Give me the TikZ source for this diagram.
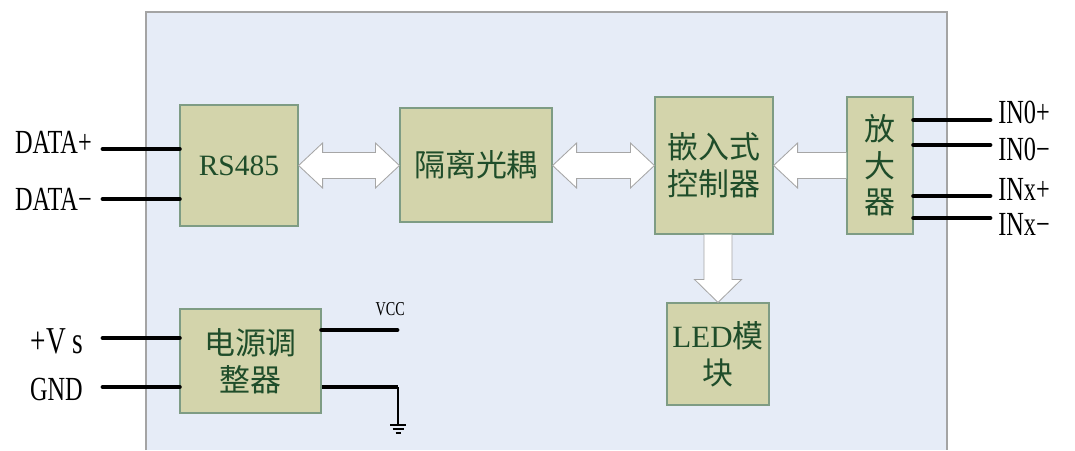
\documentclass[tikz,border=0pt]{standalone}
\usepackage{fontspec}
\setmainfont{Liberation Serif}
\newfontfamily\cjk{Noto Sans CJK SC}
\newfontfamily\pinfont[FakeStretch=0.72]{Liberation Serif}
\usetikzlibrary{calc}
\definecolor{panelbg}{HTML}{E6ECF7}
\definecolor{panelline}{HTML}{A4A4A4}
\definecolor{boxfill}{HTML}{D3D4AB}
\definecolor{boxline}{HTML}{7E9C84}
\definecolor{boxtext}{HTML}{1F4D2A}

\begin{document}
\begin{tikzpicture}[x=0.025cm, y=-0.025cm]
    \tikzset{
        blk/.style      =   { rectangle
                            , fill=boxfill
                            , draw=boxline
                            , line width=0.8pt
                            , text=boxtext
                            , align=center
                            , inner sep=0pt
                            , font=\cjk\fontsize{22}{26}\selectfont
        }
        , pin/.style    =   { line width=3.4pt
                            , line cap=round
        }
        , pinlabel/.style = { inner sep=0pt
                            , font=\pinfont\fontsize{24}{26}\selectfont
        }
        , fat/.style    =   { fill=white
                            , draw=gray!70
                            , line width=0.6pt
        }
    }
    \useasboundingbox (0,0) rectangle (1075,450);

    % module panel
    \fill[panelbg] (146,450) rectangle (947,12);
    \draw[panelline, line width=0.8pt] (146,450) -- (146,12) -- (947,12) -- (947,450);

    % blocks
    \node(rs) [blk, minimum width=2.95cm, minimum height=3.025cm] at (239,165.5)
        {\rmfamily\fontsize{21}{24}\selectfont RS485};
    \node(iso)[blk, minimum width=3.8cm, minimum height=2.85cm] at (476,165) {隔离光耦};
    \node(mcu)[blk, minimum width=2.95cm, minimum height=3.425cm] at (714,165.5) {嵌入式\\控制器};
    \node(amp)[blk, minimum width=1.65cm, minimum height=3.425cm] at (880,165.5) {放\\大\\器};
    \node(led)[blk, minimum width=2.55cm, minimum height=2.55cm] at (718,354) {{\rmfamily LED}模\\块};
    \node(pwr)[blk, minimum width=3.525cm, minimum height=2.6cm] at (250.5,361) {电源调\\整器};

    % fat arrows
    \draw[fat] (rs.east) -- ++(24,-22.5) -- ++(0,9.5) -- ($(iso.west |- rs.east)+(-24,-13)$)
        -- ++(0,-9.5) -- (iso.west |- rs.east) -- ++(-24,22.5) -- ++(0,-9.5)
        -- ($(rs.east)+(24,13)$) -- ++(0,9.5) -- cycle;
    \draw[fat] (iso.east |- mcu.west) -- ++(24,-22.5) -- ++(0,9.5) -- ($(mcu.west)+(-24,-13)$)
        -- ++(0,-9.5) -- (mcu.west) -- ++(-24,22.5) -- ++(0,-9.5)
        -- ($(iso.east |- mcu.west)+(24,13)$) -- ++(0,9.5) -- cycle;
    \draw[fat] ($(amp.west)+(0,-13)$) -- ($(mcu.east |- amp.west)+(24,-13)$) -- ++(0,-9.5)
        -- (mcu.east |- amp.west) -- ++(24,22.5) -- ++(0,-9.5) -- ($(amp.west)+(0,13)$);
    \draw[fat] ($(led.north |- mcu.south)+(-14,0)$) -- ($(led.north)+(-14,-23)$) -- ++(-9.5,0)
        -- (led.north) -- ($(led.north)+(23.5,-23)$) -- ++(-9.5,0) -- ($(led.north |- mcu.south)+(14,0)$);

    % bus and input pins
    \coordinate(dplus)  at (103,149);
    \coordinate(dminus) at (103,199);
    \coordinate(vsin)   at (103,338);
    \coordinate(gndin)  at (103,387);
    \draw[pin] (dplus)  -- (rs.west |- dplus);
    \draw[pin] (dminus) -- (rs.west |- dminus);
    \draw[pin] (vsin)   -- (pwr.west |- vsin);
    \draw[pin] (gndin)  -- (pwr.west |- gndin);
    \node(ldplus) [pinlabel, anchor=base east] at (92,153) {DATA+};
    \node(ldminus)[pinlabel, anchor=base east] at (92,210) {DATA−};
    \node(lvs)    [pinlabel, anchor=base east, font=\pinfont\fontsize{27}{28}\selectfont] at (83,353) {+V\,s};
    \node(lgnd)   [pinlabel, anchor=base east] at (83,400) {GND};

    \coordinate(in0p) at (990,120);
    \coordinate(in0m) at (990,145);
    \coordinate(inxp) at (990,196);
    \coordinate(inxm) at (990,218);
    \foreach \c/\t/\b in {in0p/IN0+/123, in0m/IN0−/160, inxp/INx+/200, inxm/INx−/235} {
        \draw[pin] (amp.east |- \c) -- (\c);
        \node(l\c)[pinlabel, anchor=base west] at (998,\b) {\t};
    }

    % power outputs
    \coordinate(vcc) at (397,330);
    \coordinate(gnd) at (398,387);
    \coordinate(earth) at (398,425);
    \draw[pin] (pwr.east |- vcc) -- (vcc);
    \draw[pin, line cap=butt] (pwr.east |- gnd) -- (gnd);
    \draw[line width=1pt] (gnd) -- (earth);
    \draw[line width=1pt] ($(earth)+(-8,0)$) -- ($(earth)+(8,0)$);
    \draw[line width=1pt] ($(earth)+(-5.5,4)$) -- ($(earth)+(5.5,4)$);
    \draw[line width=1pt] ($(earth)+(-2.5,8)$) -- ($(earth)+(2.5,8)$);
    \node(lvcc)[pinlabel, anchor=base east, font=\pinfont\fontsize{14}{15}\selectfont] at (405,315) {VCC};
\end{tikzpicture}
\end{document}
